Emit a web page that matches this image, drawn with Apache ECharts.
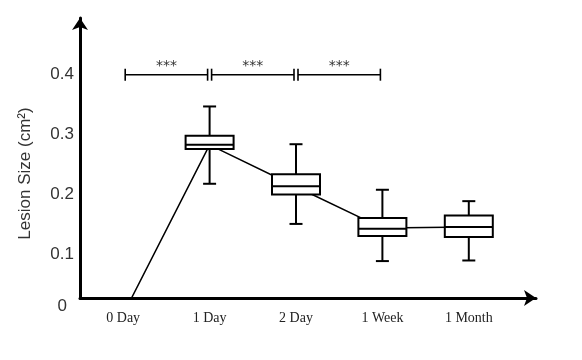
<!DOCTYPE html>
<html>
<head>
<meta charset="utf-8">
<script src="https://cdn.jsdelivr.net/npm/echarts@6/dist/echarts.min.js"></script>
<style>
	html, body { margin: 0; padding: 0; background: #fff; }
	#lesionChart { width: 582px; height: 360px; }
</style>
</head>
<body>
<div id="lesionChart"></div>
<script>
// 时间点
var categories = ['0 Day', '1 Day', '2 Day', '1 Week', '1 Month'];
// 箱线图（1 Day ~ 1 Month），单位 cm²
var boxIndex = [1, 2, 3, 4];
var lowWhisker = [0.218, 0.151, 0.089, 0.090];
var lowerQuartile = [0.276, 0.200, 0.131, 0.129];
var medians = [0.283, 0.214, 0.143, 0.146];
var upperQuartile = [0.298, 0.234, 0.161, 0.165];
var highWhisker = [0.347, 0.284, 0.208, 0.189];
// 连线
var trend = [0, 0.283, 0.213, 0.144, 0.146];
// 显著性标记
var sigFrom = [0, 1, 2];
var sigTo = [1, 2, 3];
var sigLevel = 0.4;
var sigText = '***';
// 纵轴范围（图中横轴位于约 0.027 处）
var yMin = 0.0274;
var yMax = 0.4946;

var lesionChart = {
	boxData: function() {
		var list = [];
		for (var i = 0; i < boxIndex.length; i++) {
			list.push([boxIndex[i], lowWhisker[i], lowerQuartile[i], medians[i], upperQuartile[i], highWhisker[i]]);
		}
		return list;
	},
	sigData: function() {
		var list = [];
		for (var i = 0; i < sigFrom.length; i++) {
			list.push([sigFrom[i], sigTo[i], sigLevel]);
		}
		return list;
	},
	renderBox: function(params, api) { // 画箱体
		var i = api.value(0);
		var pLow = api.coord([i, api.value(1)]);
		var pQ1 = api.coord([i, api.value(2)]);
		var pMed = api.coord([i, api.value(3)]);
		var pQ3 = api.coord([i, api.value(4)]);
		var pHigh = api.coord([i, api.value(5)]);
		var x = pMed[0], half = 24, cap = 6.5;
		var st = { stroke: '#000', lineWidth: 2 };
		return {
			type: 'group',
			children: [
				{ type: 'line', shape: { x1: x, y1: pHigh[1], x2: x, y2: pQ3[1] }, style: st },
				{ type: 'line', shape: { x1: x - cap, y1: pHigh[1], x2: x + cap, y2: pHigh[1] }, style: st },
				{ type: 'line', shape: { x1: x, y1: pQ1[1], x2: x, y2: pLow[1] }, style: st },
				{ type: 'line', shape: { x1: x - cap, y1: pLow[1], x2: x + cap, y2: pLow[1] }, style: st },
				{ type: 'rect', shape: { x: x - half, y: pQ3[1], width: half * 2, height: pQ1[1] - pQ3[1] },
					style: { fill: '#fff', stroke: '#000', lineWidth: 2 } },
				{ type: 'line', shape: { x1: x - half, y1: pMed[1], x2: x + half, y2: pMed[1] }, style: st }
			]
		};
	},
	renderSig: function(params, api) { // 画显著性括线
		var p1 = api.coord([api.value(0), api.value(2)]);
		var p2 = api.coord([api.value(1), api.value(2)]);
		var x1 = p1[0] + 2, x2 = p2[0] - 2, y = p1[1], h = 6;
		var st = { stroke: '#000', lineWidth: 1.6 };
		return {
			type: 'group',
			children: [
				{ type: 'line', shape: { x1: x1, y1: y, x2: x2, y2: y }, style: st },
				{ type: 'line', shape: { x1: x1, y1: y - h, x2: x1, y2: y + h }, style: st },
				{ type: 'line', shape: { x1: x2, y1: y - h, x2: x2, y2: y + h }, style: st },
				{ type: 'text', style: { text: sigText, x: (x1 + x2) / 2, y: y - 8, align: 'center',
					verticalAlign: 'middle', fill: '#333', font: '14px "DejaVu Sans"' } }
			]
		};
	},
	build: function() {
		var myChart = echarts.init(document.getElementById('lesionChart'));
		var option = {
			animation: false,
			grid: [
				{ left: 80, right: 70, top: 18, bottom: 62, containLabel: false, outerBoundsMode: 'none' },
				{ left: 80, right: 46, top: 18, bottom: 62, containLabel: false, outerBoundsMode: 'none' }
			],
			xAxis: [{
				type: 'category',
				gridIndex: 0,
				data: categories,
				boundaryGap: true,
				axisLine: { show: false },
				axisTick: { show: false },
				axisLabel: {
					interval: 0,
					margin: 13,
					color: '#222',
					fontSize: 14,
					fontFamily: 'Liberation Serif'
				}
			}, {
				type: 'value',
				gridIndex: 1,
				min: 0,
				max: 1,
				axisLine: {
					show: true,
					onZero: false,
					symbol: ['none', 'arrow'],
					symbolSize: [12, 12],
					lineStyle: { color: '#000', width: 3 }
				},
				axisTick: { show: false },
				axisLabel: { show: false },
				splitLine: { show: false }
			}],
			yAxis: [{
				type: 'value',
				gridIndex: 0,
				min: yMin,
				max: yMax,
				name: 'Lesion Size (cm²)',
				nameLocation: 'middle',
				nameRotate: 90,
				nameGap: 46,
				nameTextStyle: {
					color: '#333',
					fontSize: 17,
					fontFamily: 'Liberation Sans',
					padding: [0, 31, 0, 0]
				},
				axisLine: {
					show: true,
					symbol: ['none', 'arrow'],
					symbolSize: [12, 12],
					lineStyle: { color: '#000', width: 3 }
				},
				axisTick: { show: false },
				splitLine: { show: false },
				axisLabel: {
					showMinLabel: true,
					showMaxLabel: false,
					margin: 6,
					color: '#333',
					fontSize: 17,
					fontFamily: 'Liberation Sans',
					formatter: function(v) {
						if (v < 0.05) return '{z|0}';
						if (v > 0.45) return '';
						return v.toFixed(1);
					},
					rich: {
						z: { padding: [16, 7, 0, 0], fontSize: 17, color: '#333', fontFamily: 'Liberation Sans' }
					}
				}
			}, {
				type: 'value',
				gridIndex: 1,
				show: false
			}],
			series: [{
				type: 'line',
				name: 'trend',
				xAxisIndex: 0,
				yAxisIndex: 0,
				data: trend,
				symbol: 'none',
				z: 1,
				lineStyle: { color: '#000', width: 1.5 }
			}, {
				type: 'custom',
				name: 'box',
				xAxisIndex: 0,
				yAxisIndex: 0,
				z: 3,
				renderItem: lesionChart.renderBox,
				encode: { x: 0, y: [1, 2, 3, 4, 5] },
				data: lesionChart.boxData()
			}, {
				type: 'custom',
				name: 'sig',
				xAxisIndex: 0,
				yAxisIndex: 0,
				z: 3,
				renderItem: lesionChart.renderSig,
				encode: { x: [0, 1], y: 2 },
				data: lesionChart.sigData()
			}]
		};
		myChart.setOption(option);
	}
};

lesionChart.build();
</script>
</body>
</html>
